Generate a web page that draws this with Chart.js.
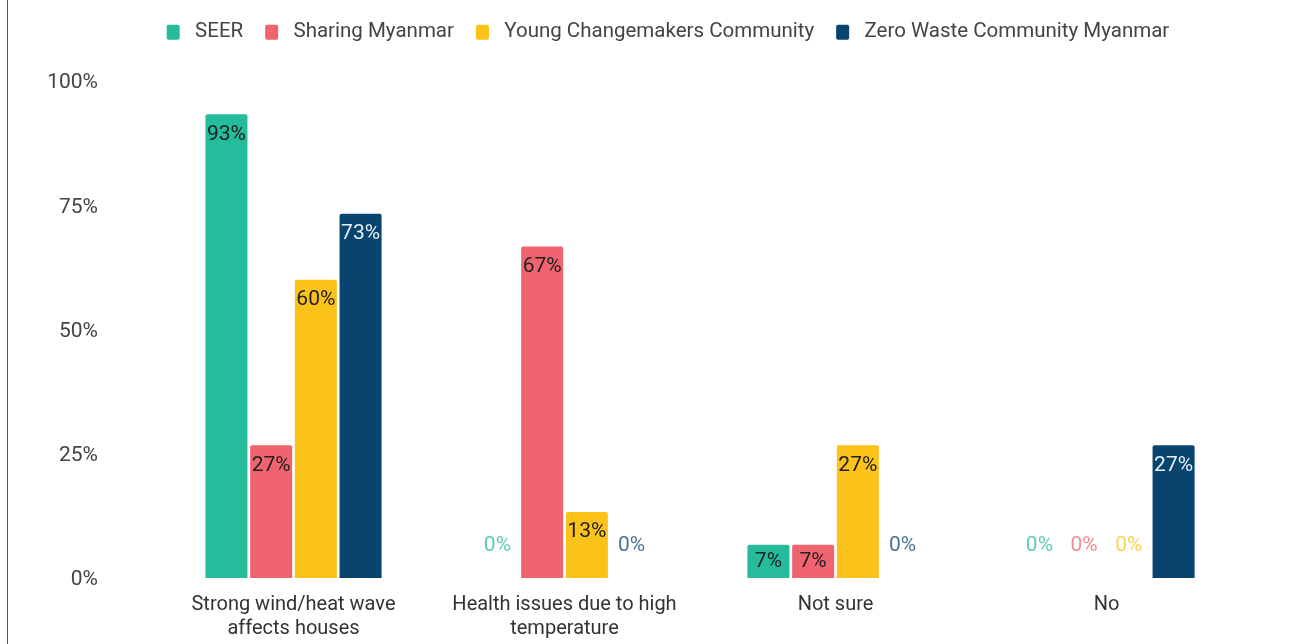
<!DOCTYPE html>
<html>
<head>
<meta charset="utf-8">
<script src="https://cdn.jsdelivr.net/npm/chart.js@4.4.1/dist/chart.umd.min.js"></script>
<style>
  html, body { margin: 0; padding: 0; background: #fff; }
  #wrap { position: absolute; left: 0; top: 0; width: 1316px; height: 644px; }
  #edge { position: absolute; left: 7px; top: 0; width: 1px; height: 644px; background: #555; }
  canvas { display: block; }
</style>
</head>
<body>
<div id="wrap"><canvas id="c" width="1316" height="644"></canvas><div id="edge"></div></div>
<script>
const categories = [["Strong wind/heat wave", "affects houses"], ["Health issues due to high", "temperature"], "Not sure", "No"];
const seriesNames = ["SEER", "Sharing Myanmar", "Young Changemakers Community", "Zero Waste Community Myanmar"];
const seer = [93.3, 0, 6.7, 0];
const sharingMyanmar = [26.7, 66.7, 6.7, 0];
const youngChangemakers = [60, 13.3, 26.7, 0];
const zeroWaste = [73.3, 0, 0, 26.7];
const yTicks = [0, 25, 50, 75, 100];

const colors = ["#25bc9b", "#f0646f", "#fbc21a", "#08446e"];
const labelColors = ["#1f1f1f", "#1f1f1f", "#1f1f1f", "#e6eef6"];
const zeroColors = ["rgba(37,188,155,0.75)", "rgba(240,100,111,0.75)", "rgba(251,194,26,0.75)", "rgba(8,68,110,0.75)"];
const FONT = "Roboto, 'Noto Sans', sans-serif";

const valueLabels = {
  id: 'valueLabels',
  afterDatasetsDraw(chart) {
    const ctx = chart.ctx;
    const yScale = chart.scales.y;
    const base = yScale.getPixelForValue(0);
    ctx.save();
    ctx.font = "21px " + FONT;
    ctx.textAlign = 'center';
    ctx.textBaseline = 'middle';
    chart.data.datasets.forEach((ds, di) => {
      const meta = chart.getDatasetMeta(di);
      meta.data.forEach((bar, i) => {
        const v = ds.data[i];
        const txt = Math.round(v) + '%';
        let y;
        if (v === 0) {
          ctx.fillStyle = zeroColors[di];
          y = base - 32;
        } else {
          ctx.fillStyle = labelColors[di];
          y = Math.min(bar.y + 20, (bar.y + base) / 2);
        }
        ctx.fillText(txt, bar.x, y);
      });
    });
    ctx.restore();
  }
};

const legendLayout = {
  id: 'legendLayout',
  afterInit(chart) {
    const lg = chart.legend;
    const fit = lg.fit;
    lg.fit = function () { fit.call(this); this.height = 81; };
  },
  afterLayout(chart) {
    const lg = chart.legend;
    lg.left = 20;
    lg.right = 1316;
  }
};

const datasets = [seer, sharingMyanmar, youngChangemakers, zeroWaste].map((d, i) => ({
  label: seriesNames[i],
  data: d,
  backgroundColor: colors[i],
  borderRadius: 2,
  borderSkipped: 'bottom',
  barPercentage: 0.94,
  categoryPercentage: 0.66
}));

new Chart(document.getElementById('c'), {
  type: 'bar',
  data: { labels: categories, datasets },
  options: {
    responsive: false,
    animation: false,
    layout: { padding: { left: 8, right: 74, top: 0, bottom: 0 } },
    plugins: {
      legend: {
        position: 'top',
        labels: {
          font: { family: FONT, size: 20.5 },
          color: '#444',
          boxWidth: 13,
          boxHeight: 15,
          padding: 22,
          useBorderRadius: true,
          borderRadius: 2,
          generateLabels(ch) {
            const items = Chart.defaults.plugins.legend.labels.generateLabels(ch);
            items.forEach(it => { it.text = ' ' + it.text; });
            return items;
          }
        }
      },
      tooltip: { enabled: false }
    },
    scales: {
      x: {
        grid: { display: false },
        border: { display: false },
        ticks: { font: { family: FONT, size: 20 }, color: '#333', padding: 7, maxRotation: 0 },
        afterFit(s) { s.height = 66; }
      },
      y: {
        min: 0, max: 100,
        grid: { display: false, drawTicks: true, tickLength: 60 },
        border: { display: false },
        afterBuildTicks(s) { s.ticks = yTicks.map(v => ({ value: v })); },
        ticks: { font: { family: FONT, size: 21 }, color: '#444', padding: 0, labelOffset: 2, callback: v => v + '%' },
        afterFit(s) { s.width = 150; }
      }
    }
  },
  plugins: [valueLabels, legendLayout]
});
</script>
</body>
</html>
